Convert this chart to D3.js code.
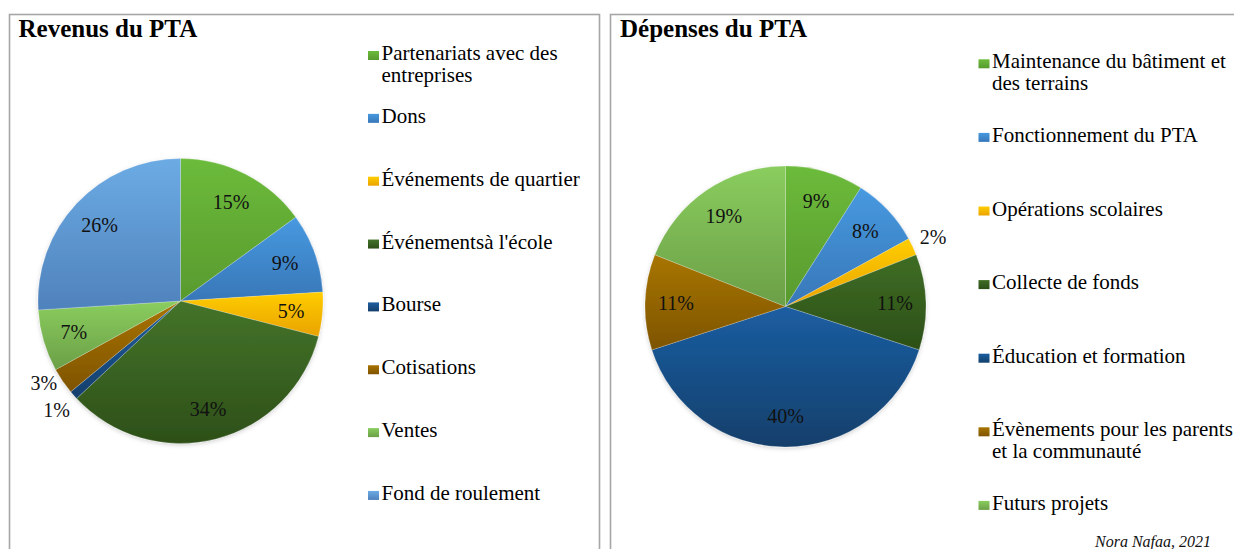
<!DOCTYPE html>
<html>
<head>
<meta charset="utf-8">
<script src="https://cdn.jsdelivr.net/npm/d3@7"></script>
<style>
  html, body { margin: 0; padding: 0; background: #fff; }
  svg { display: block; }
</style>
</head>
<body>
<svg id="chart" width="1234" height="549"></svg>
<script>
// Revenue breakdown (percent)
const revenueTitle = "Revenus du PTA";
const revenueCategories = [
  "Partenariats avec des entreprises",
  "Dons",
  "Événements de quartier",
  "Événementsà l'école",
  "Bourse",
  "Cotisations",
  "Ventes",
  "Fond de roulement"
];
const revenueValues = [15, 9, 5, 34, 1, 3, 7, 26];
const revenueColors = [
  ["#6cbb3b", "#589a2e"],
  ["#4799e0", "#3877b8"],
  ["#ffcd00", "#e9a200"],
  ["#44742a", "#2d4f18"],
  ["#1f5fa0", "#153f6c"],
  ["#a87300", "#7f5400"],
  ["#8acd5e", "#6b9f47"],
  ["#6cabe4", "#4f82bc"]
];

// Expense breakdown (percent)
const expenseTitle = "Dépenses du PTA";
const expenseCategories = [
  "Maintenance du bâtiment et des terrains",
  "Fonctionnement du PTA",
  "Opérations scolaires",
  "Collecte de fonds",
  "Éducation et formation",
  "Évènements pour les parents et la communauté",
  "Futurs projets"
];
const expenseValues = [9, 8, 2, 11, 40, 11, 19];
const expenseColors = [
  ["#6cbb3b", "#589a2e"],
  ["#4799e0", "#3877b8"],
  ["#ffcd00", "#e9a200"],
  ["#3f6d24", "#2c4f18"],
  ["#1b5ea2", "#123f6b"],
  ["#a87500", "#7d5400"],
  ["#8acd5e", "#6b9f47"]
];

const credit = "Nora Nafaa, 2021";

const FONT = "'Liberation Serif', 'Times New Roman', Tinos, serif";

const svg = d3.select("#chart");
const root = svg.append("g").style("font-family", FONT);
const defs = svg.append("defs");

// soft shadow beneath each pie
const shadow = defs.append("filter").attr("id", "pieShadow")
  .attr("x", "-10%").attr("y", "-10%").attr("width", "120%").attr("height", "125%");
shadow.append("feDropShadow").attr("dx", 0).attr("dy", 1.5)
  .attr("stdDeviation", 2).attr("flood-color", "#000").attr("flood-opacity", 0.18);

function makeGradient(id, pair) {
  const g = defs.append("linearGradient").attr("id", id)
    .attr("x1", 0).attr("y1", 0).attr("x2", 0).attr("y2", 1);
  g.append("stop").attr("offset", "0%").attr("stop-color", pair[0]);
  g.append("stop").attr("offset", "100%").attr("stop-color", pair[1]);
  return `url(#${id})`;
}

function drawPanel(cfg) {
  const panel = root.append("g");

  // frame
  panel.append("rect")
    .attr("x", cfg.frame[0]).attr("y", cfg.frame[1])
    .attr("width", cfg.frame[2]).attr("height", cfg.frame[3])
    .attr("fill", "none").attr("stroke", "#a6a6a6").attr("stroke-width", 1.6);

  // title
  panel.append("text")
    .attr("x", cfg.titlePos[0]).attr("y", cfg.titlePos[1])
    .style("font-family", FONT)
    .attr("font-size", 25).attr("font-weight", "bold").attr("fill", "#000")
    .text(cfg.title);

  const fills = cfg.colors.map((c, i) => makeGradient(`${cfg.id}-g${i}`, c));

  const pie = d3.pie().sort(null).value(d => d)(cfg.values);
  const arc = d3.arc().innerRadius(0).outerRadius(cfg.r);
  const labelArc = d3.arc().innerRadius(cfg.r * 0.78).outerRadius(cfg.r * 0.78);
  const outerArc = d3.arc().innerRadius(cfg.r * 1.16).outerRadius(cfg.r * 1.16);

  const pg = panel.append("g").attr("transform", `translate(${cfg.cx},${cfg.cy})`);
  const slices = pg.append("g").attr("filter", "url(#pieShadow)");
  slices.selectAll("path").data(pie).join("path")
    .attr("d", arc)
    .attr("fill", (d, i) => fills[i])
    .attr("stroke", "rgba(255,255,255,0.35)")
    .attr("stroke-width", 0.6);

  // data labels: inside for larger slices, outside for thin ones
  const labels = pie.map(d => {
    const outside = d.value <= 3;
    const [x, y] = outside ? outerArc.centroid(d) : labelArc.centroid(d);
    return { text: d.value + "%", x, y, outside };
  });
  // keep outside labels from overlapping: lift the upper one
  const outs = labels.filter(l => l.outside).sort((a, b) => b.y - a.y);
  for (let k = 1; k < outs.length; k++) {
    const gap = 27;
    if (outs[k - 1].y - outs[k].y < gap) outs[k].y = outs[k - 1].y - gap;
  }
  pg.selectAll("text.lbl").data(labels).join("text")
    .attr("class", "lbl")
    .style("font-family", FONT)
    .attr("x", d => d.x).attr("y", d => d.y).attr("dy", "0.35em")
    .attr("text-anchor", "middle")
    .attr("font-size", 20).attr("fill", "#111")
    .text(d => d.text);

  // legend
  const lg = panel.append("g");
  cfg.categories.forEach((name, i) => {
    const y = cfg.legendY0 + i * cfg.legendStep;
    lg.append("rect")
      .attr("x", cfg.legendX).attr("y", y - 9)
      .attr("width", 11).attr("height", 9)
      .attr("fill", fills[i]);
    const tx = cfg.legendX + 13.5;
    const t = lg.append("text")
      .style("font-family", FONT)
      .attr("x", tx).attr("y", y)
      .attr("font-size", 21).attr("fill", "#000");
    // wrap to the legend column width
    const words = name.split(" ");
    let line = [];
    let tspan = t.append("tspan").attr("x", tx).attr("y", y);
    let lineNo = 0;
    words.forEach(w => {
      line.push(w);
      tspan.text(line.join(" "));
      if (tspan.node().getComputedTextLength() > cfg.legendWidth && line.length > 1) {
        line.pop();
        tspan.text(line.join(" "));
        line = [w];
        lineNo++;
        tspan = t.append("tspan").attr("x", tx)
          .attr("y", y + lineNo * 21.7).text(w);
      }
    });
  });
}

drawPanel({
  id: "rev",
  title: revenueTitle,
  categories: revenueCategories,
  values: revenueValues,
  colors: revenueColors,
  frame: [9.5, 14.5, 590, 600],
  titlePos: [18.5, 36.5],
  cx: 180.5, cy: 301, r: 142.5,
  legendX: 368, legendY0: 60, legendStep: 62.85, legendWidth: 215
});

drawPanel({
  id: "dep",
  title: expenseTitle,
  categories: expenseCategories,
  values: expenseValues,
  colors: expenseColors,
  frame: [610.5, 14.5, 700, 600],
  titlePos: [620, 36.5],
  cx: 785.5, cy: 306.5, r: 140.5,
  legendX: 978.5, legendY0: 68.3, legendStep: 73.6, legendWidth: 255
});

root.append("text")
  .style("font-family", FONT)
  .attr("x", 1095).attr("y", 546.5)
  .attr("font-size", 16).attr("font-style", "italic").attr("fill", "#111")
  .text(credit);
</script>
</body>
</html>
